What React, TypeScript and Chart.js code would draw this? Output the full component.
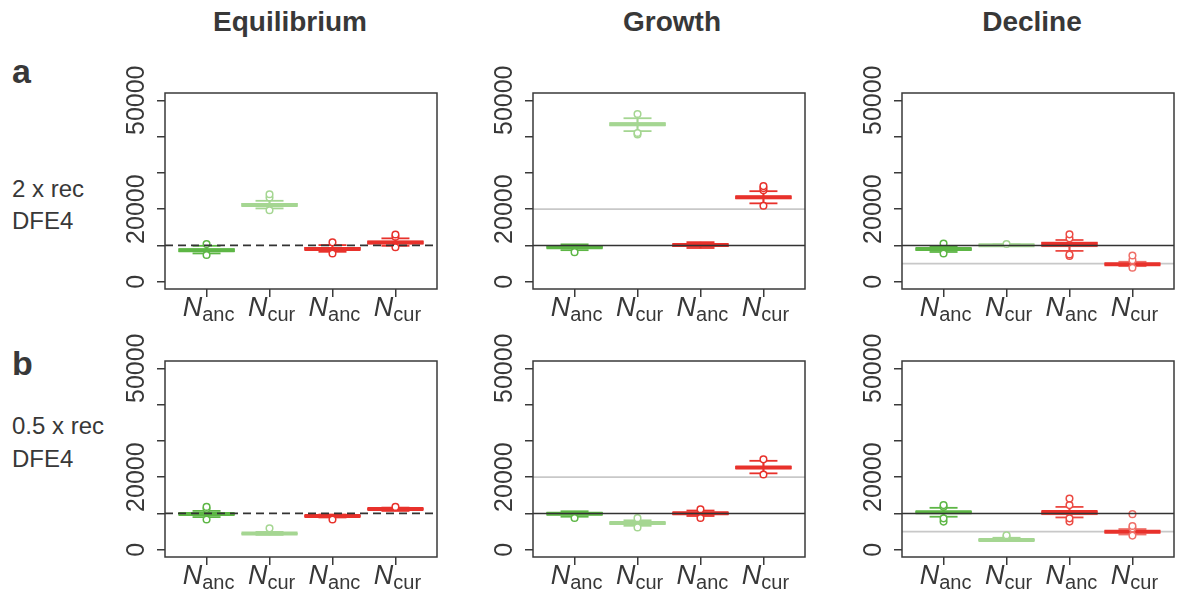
import React, { useEffect, useRef } from 'react';
import { Chart, registerables } from 'chart.js';

Chart.register(...registerables);

// ---------- data ----------
const columnTitles = ['Equilibrium', 'Growth', 'Decline'];
const categories = ['anc', 'cur', 'anc', 'cur'];
const yTickValues = [0, 10000, 20000, 30000, 40000, 50000];
const yLabelValues = [0, 20000, 50000];

// each box: [lower whisker, Q1, median, Q3, upper whisker]
const eqA = [
  [7800, 8300, 8700, 9150, 9900],
  [20200, 20750, 21150, 21600, 22300],
  [8250, 8700, 9050, 9450, 10100],
  [9900, 10350, 10800, 11250, 11950],
];
const eqAOut = [[7350, 10400], [19700, 23200, 24100], [7800, 10850], [9500, 12400, 13000]];

const growthA = [
  [8700, 9150, 9500, 9900, 10300],
  [41500, 42950, 43400, 43850, 45050],
  [9300, 9650, 10100, 10500, 10900],
  [21600, 22850, 23300, 23700, 24950],
];
const growthAOut = [[8150], [40600, 41000, 46200], [], [20950, 25200, 25800, 26350]];

const declineA = [
  [8200, 8650, 9000, 9350, 9800],
  [9850, 9900, 10080, 10250, 10300],
  [8500, 9600, 10400, 11000, 11500],
  [4300, 4550, 4850, 5150, 5500],
];
const declineAOut = [[7800, 10550], [10400], [7100, 7500, 11950, 13050], [3850, 5950, 7250]];

const eqB = [
  [9000, 9500, 9850, 10200, 10700],
  [4100, 4250, 4450, 4650, 4900],
  [8900, 9050, 9300, 9550, 9700],
  [10700, 10950, 11200, 11450, 11600],
];
const eqBOut = [[8350, 11300, 11800], [5900], [8350], [11800]];

const growthB = [
  [9100, 9500, 9900, 10300, 10600],
  [6600, 7000, 7350, 7700, 8100],
  [9300, 9650, 10050, 10400, 10800],
  [21050, 22300, 22650, 23000, 24500],
];
const growthBOut = [[8750], [6150, 8700], [8750, 11150], [20750, 24900]];

const declineB = [
  [9100, 10050, 10350, 10650, 11550],
  [2400, 2450, 2700, 2950, 3300],
  [8900, 9600, 10400, 10700, 11800],
  [4200, 4650, 4950, 5300, 5700],
];
const declineBOut = [[7750, 8650, 11850, 12300], [3650, 4000], [7750, 8650, 12300, 14100], [3900, 5900, 6550, 9800]];

const eqRef = [10000];
const growthRef = [10000, 20000];
const declineRef = [10000, 5000];

// ---------- styles ----------
const FONT = "'Liberation Sans', Arial, Helvetica, sans-serif";
const TEXT = '#383838';
const AXIS = '#3a3a3a';
const DG = '#5db645';
const LG = '#a5d692';
const RD = '#e8312b';
const bordersNormal = [DG, LG, RD, RD];
const fillsNormal = [DG, LG, RD, RD];
const bordersDecline = [DG, LG, '#ec4a43', '#ef6f68'];
const fillsDecline = [DG, LG, '#f07771', '#f3958e'];
const mediansNormal = [DG, LG, RD, RD];

const BOX_W = 298;
const BOX_H = 196;
const PAD_L = 75;
const PAD_T = 36;
const PAD_R = 6;
const PAD_B = 48;
const colLeft = [165, 533, 902];
const rowTop = [93, 361];
const X_MIN = 0.34;
const X_MAX = 4.66;

const refStyle = (kind: string) => {
  if (kind === 'dash') return { color: '#333333', width: 1.8, dash: [8, 5] };
  if (kind === 'gray') return { color: '#c8c8c8', width: 1.6, dash: [] as number[] };
  return { color: '#333333', width: 1.6, dash: [] as number[] };
};

const labelPlugin = {
  id: 'rStyleFrame',
  afterDraw(chart: any) {
    const { ctx, chartArea: ca } = chart;
    const xs = chart.scales.x;
    const ys = chart.scales.y;
    ctx.save();
    ctx.strokeStyle = AXIS;
    ctx.lineWidth = 1.5;
    ctx.strokeRect(ca.left, ca.top, ca.right - ca.left, ca.bottom - ca.top);

    // y labels (rotated, R style)
    ctx.fillStyle = TEXT;
    ctx.font = `25px ${FONT}`;
    ctx.textAlign = 'center';
    ctx.textBaseline = 'alphabetic';
    yLabelValues.forEach((v) => {
      const py = ys.getPixelForValue(v);
      ctx.save();
      ctx.translate(ca.left - 21.5, py);
      ctx.rotate(-Math.PI / 2);
      ctx.fillText(String(v), 0, 0);
      ctx.restore();
    });

    // x labels: italic N with subscript
    ctx.textAlign = 'left';
    categories.forEach((sub, i) => {
      const px = xs.getPixelForValue(i + 1);
      ctx.font = `italic 27px ${FONT}`;
      const wN = ctx.measureText('N').width;
      ctx.font = `20px ${FONT}`;
      const wS = ctx.measureText(sub).width;
      const total = wN + wS;
      const start = px - total / 2 + 2;
      ctx.font = `italic 27px ${FONT}`;
      ctx.fillText('N', start, ca.bottom + 27);
      ctx.font = `20px ${FONT}`;
      ctx.fillText(sub, start + wN, ca.bottom + 32);
    });
    ctx.restore();
  },
};

type PanelProps = {
  row: number;
  col: number;
  boxes: number[][];
  outliers: number[][];
  refValues: number[];
  refKinds: string[];
  borders: string[];
  fills: string[];
  medians: string[];
};

function Panel({ row, col, boxes, outliers, refValues, refKinds, borders, fills, medians }: PanelProps) {
  const ref = useRef<HTMLCanvasElement | null>(null);
  const W = PAD_L + BOX_W + PAD_R;
  const H = PAD_T + BOX_H + PAD_B;

  useEffect(() => {
    const canvas = ref.current;
    if (!canvas) return;
    const datasets: any[] = [
      {
        type: 'bar',
        label: 'whiskers',
        data: boxes.map((b, i) => ({ x: i + 1, y: [b[0], b[4]] })),
        backgroundColor: borders,
        borderWidth: 0,
        barThickness: 1.5,
        grouped: false,
        order: 6,
      },
      {
        type: 'bar',
        label: 'boxes',
        data: boxes.map((b, i) => ({ x: i + 1, y: [b[1], b[3]] })),
        backgroundColor: fills,
        borderColor: borders,
        borderWidth: 3,
        borderSkipped: false,
        barThickness: 56,
        grouped: false,
        order: 5,
      },
      {
        type: 'scatter',
        label: 'caps',
        data: boxes.flatMap((b, i) => [
          { x: i + 1, y: b[0] },
          { x: i + 1, y: b[4] },
        ]),
        pointStyle: 'line',
        pointRadius: 14,
        pointBorderWidth: 1.8,
        pointBorderColor: boxes.flatMap((_b, i) => [borders[i], borders[i]]),
        order: 4,
      },
      {
        type: 'scatter',
        label: 'medians',
        data: boxes.map((b, i) => ({ x: i + 1, y: b[2] })),
        pointStyle: 'line',
        pointRadius: 28,
        pointBorderWidth: 4,
        pointBorderColor: medians,
        order: 3,
      },
      {
        type: 'scatter',
        label: 'outliers',
        data: outliers.flatMap((o, i) => o.map((v) => ({ x: i + 1, y: v }))),
        pointStyle: 'circle',
        pointRadius: 3.3,
        pointBorderWidth: 1.5,
        pointBorderColor: outliers.flatMap((o, i) => o.map(() => borders[i])),
        pointBackgroundColor: '#ffffff',
        order: 2,
      },
      ...refValues.map((v, k) => {
        const s = refStyle(refKinds[k]);
        return {
          type: 'line',
          label: 'ref' + k,
          data: [
            { x: X_MIN, y: v },
            { x: X_MAX, y: v },
          ],
          borderColor: s.color,
          borderWidth: s.width,
          borderDash: s.dash,
          pointRadius: 0,
          fill: false,
          order: refKinds[k] === 'gray' ? 7 : 1,
        };
      }),
    ];

    const chart = new Chart(canvas, {
      type: 'bar',
      data: { datasets },
      options: {
        animation: false,
        responsive: false,
        events: [],
        layout: { padding: { left: 0, top: PAD_T, right: PAD_R, bottom: 0 } },
        plugins: { legend: { display: false }, tooltip: { enabled: false } },
        scales: {
          x: {
            type: 'linear',
            min: X_MIN,
            max: X_MAX,
            offset: false,
            afterBuildTicks: (s: any) => {
              s.ticks = [1, 2, 3, 4].map((v) => ({ value: v }));
            },
            afterFit: (s: any) => {
              s.height = PAD_B;
            },
            ticks: { display: false },
            grid: { drawOnChartArea: false, drawTicks: true, tickLength: 8, color: AXIS, lineWidth: 1.5, offset: false },
            border: { display: false },
          },
          y: {
            type: 'linear',
            min: -2000,
            max: 52000,
            afterBuildTicks: (s: any) => {
              s.ticks = yTickValues.map((v) => ({ value: v }));
            },
            afterFit: (s: any) => {
              s.width = PAD_L;
            },
            ticks: { display: false },
            grid: { drawOnChartArea: false, drawTicks: true, tickLength: 8, color: AXIS, lineWidth: 1.5 },
            border: { display: false },
          },
        },
      } as any,
      plugins: [labelPlugin],
    });
    return () => chart.destroy();
  }, []);

  return (
    <canvas
      ref={ref}
      width={W}
      height={H}
      style={{
        position: 'absolute',
        left: colLeft[col] - PAD_L,
        top: rowTop[row] - PAD_T,
        width: W,
        height: H,
        display: 'block',
      }}
    />
  );
}

const titleCenters = [290, 672, 1032];

function Text({ x, baseline, size, bold, children, align }: any) {
  const top = baseline - 0.8465 * size;
  const style: any = {
    position: 'absolute',
    top,
    fontFamily: FONT,
    fontSize: size,
    lineHeight: 1,
    fontWeight: bold ? 'bold' : 'normal',
    color: TEXT,
    whiteSpace: 'nowrap',
  };
  if (align === 'center') {
    style.left = x - 200;
    style.width = 400;
    style.textAlign = 'center';
  } else {
    style.left = x;
  }
  return <div style={style}>{children}</div>;
}

export default function App() {
  const colRefKinds = [['dash'], ['black', 'gray'], ['black', 'gray']];
  return (
    <div
      style={{
        position: 'absolute',
        left: 0,
        top: 0,
        width: 1194,
        height: 596,
        overflow: 'hidden',
        background: '#ffffff',
      }}
    >
      {columnTitles.map((t, i) => (
        <Text key={t} x={titleCenters[i]} baseline={32} size={28} bold align="center">
          {t}
        </Text>
      ))}
      <Text x={12} baseline={83} size={34} bold>a</Text>
      <Text x={12} baseline={197} size={24}>2 x rec</Text>
      <Text x={12} baseline={229} size={24}>DFE4</Text>
      <Text x={12} baseline={375} size={34} bold>b</Text>
      <Text x={12} baseline={434} size={24}>0.5 x rec</Text>
      <Text x={12} baseline={467} size={24}>DFE4</Text>

      <Panel row={0} col={0} boxes={eqA} outliers={eqAOut} refValues={eqRef} refKinds={colRefKinds[0]} borders={bordersNormal} fills={fillsNormal} medians={mediansNormal} />
      <Panel row={0} col={1} boxes={growthA} outliers={growthAOut} refValues={growthRef} refKinds={colRefKinds[1]} borders={bordersNormal} fills={fillsNormal} medians={mediansNormal} />
      <Panel row={0} col={2} boxes={declineA} outliers={declineAOut} refValues={declineRef} refKinds={colRefKinds[2]} borders={bordersDecline} fills={fillsDecline} medians={mediansNormal} />
      <Panel row={1} col={0} boxes={eqB} outliers={eqBOut} refValues={eqRef} refKinds={colRefKinds[0]} borders={bordersNormal} fills={fillsNormal} medians={mediansNormal} />
      <Panel row={1} col={1} boxes={growthB} outliers={growthBOut} refValues={growthRef} refKinds={colRefKinds[1]} borders={bordersNormal} fills={fillsNormal} medians={mediansNormal} />
      <Panel row={1} col={2} boxes={declineB} outliers={declineBOut} refValues={declineRef} refKinds={colRefKinds[2]} borders={bordersDecline} fills={fillsDecline} medians={mediansNormal} />
    </div>
  );
}
